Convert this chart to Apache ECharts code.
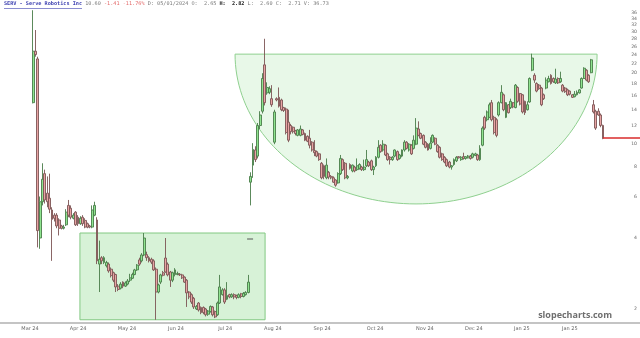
<!DOCTYPE html>
<html><head><meta charset="utf-8">
<script src="https://cdn.jsdelivr.net/npm/echarts@6/dist/echarts.min.js"></script>
<style>html,body{margin:0;padding:0;background:#fff}#c{width:640px;height:338px}</style>
</head><body><div id="c"></div>
<script>
// ---- data ----
const monthLabels = ['Mar 24','Apr 24','May 24','Jun 24','Jul 24','Aug 24','Sep 24','Oct 24','Nov 24','Dec 24','Jan 25','Jan 25'];
const monthTickIdx = [-1.3, 19, 39.7, 60.4, 81.2, 101.4, 122.2, 144.6, 165.7, 186.4, 206.7, 227];
const priceTicks = [2,4,6,8,10,12,14,16,18,20,22,24,26,28,30,32,34,36];
const lastPrice = 10.60;
// [open, close, low, high]
const candlesMarJul = [
[15.0,24.8,14.9,37.0],[24.8,24.0,23.5,30.5],[23.0,4.3,3.65,23.5],[4.0,5.7,3.6,6.0],[5.7,7.1,5.5,8.3],
[7.5,5.8,5.6,7.8],[6.2,5.7,5.4,7.3],[5.9,5.3,5.1,7.5],[5.26,4.8,3.2,5.4],[5.0,4.85,4.7,5.1],
[5.0,4.5,4.4,5.1],[4.77,4.4,4.1,4.85],[4.5,4.4,4.35,4.55],[4.4,4.45,4.35,4.55],[4.55,5.15,4.5,5.3],
[5.5,5.0,4.9,5.8],[5.35,4.9,4.8,5.5],[4.85,5.0,4.8,5.1],[5.15,4.55,4.5,5.2],[4.9,4.6,4.5,5.0],
[4.6,4.85,4.55,4.95],[4.9,4.6,4.5,5.0],[4.75,4.45,4.4,4.85],[4.6,4.45,4.4,4.65],[4.5,4.45,4.4,4.55],
[4.45,5.26,4.4,5.5],[5.0,5.5,4.95,5.7],[4.77,3.2,3.1,4.9],[3.1,3.25,2.36,3.9],[3.3,3.2,3.1,3.35],
[3.15,3.3,3.1,3.35],[3.05,3.15,3.0,3.2],[3.1,2.9,2.85,3.15],[2.95,2.77,2.72,3.0],[2.85,2.65,2.6,2.88],
[2.8,2.48,2.36,2.82],[2.5,2.42,2.38,2.55],[2.45,2.55,2.42,2.6],[2.6,2.5,2.45,2.62],[2.5,2.58,2.48,2.62],
[2.55,2.63,2.52,2.68],[2.65,2.71,2.60,2.82],[2.7,2.8,2.68,2.85],[2.8,2.93,2.78,2.96],[2.93,3.07,2.9,3.1],
[3.23,3.1,3.05,3.3],[3.2,3.39,3.15,3.45],[3.39,4.0,3.35,4.2],[3.4,3.3,3.2,3.5],[3.3,3.2,3.15,3.35],
[3.25,3.16,3.1,3.3],[3.2,2.93,2.9,3.25],[2.95,2.36,1.80,3.0],[2.36,2.53,2.33,2.56],[2.6,2.79,2.55,2.82],
[2.85,2.78,2.75,2.9],[3.29,2.87,2.85,4.0],[3.1,2.79,2.75,3.15],[2.87,2.65,2.48,2.9],[2.65,2.85,2.6,2.88],
[2.8,2.93,2.75,2.98],[2.8,2.83,2.78,2.88],[2.81,2.79,2.76,2.84],[2.79,2.71,2.68,2.82],[2.73,2.6,2.58,2.75],
[2.65,2.34,2.04,2.68],[2.36,2.25,2.2,2.38],[2.3,2.14,2.1,2.33],[2.22,2.04,2.0,2.25],[2.0,2.05,1.98,2.08],
[2.12,1.98,1.95,2.14],[2.03,1.93,1.9,2.05],[2.03,1.93,1.9,2.05],[2.0,1.89,1.86,2.02],[1.9,1.96,1.87,1.98],
[1.95,2.05,1.93,2.07],[2.04,1.89,1.86,2.06],[1.95,1.85,1.83,1.97],[1.89,2.12,1.87,2.15],[2.12,2.48,2.1,2.79],
[2.3,2.41,2.28,2.45],[2.41,2.14,2.1,2.45],[2.2,2.28,2.18,2.6],[2.3,2.25,2.22,2.32],[2.25,2.3,2.23,2.33],
[2.3,2.25,2.2,2.33],[2.28,2.24,2.2,2.3],[2.24,2.3,2.22,2.33],[2.32,2.26,2.22,2.34],[2.26,2.33,2.24,2.36],
[2.3,2.35,2.28,2.38],[2.35,2.6,2.33,2.79]
];
const candlesJulFeb = [
[6.9,7.3,5.5,7.6],[8.15,9.5,7.2,10.1],[9.45,8.6,8.4,9.8],[8.9,12.0,8.7,12.3],[12.0,13.3,11.6,13.8],
[13.8,19.0,13.5,20.0],[21.7,15.0,14.6,28.0],[16.5,17.4,16.2,18.3],[16.6,17.2,16.3,17.6],[15.6,14.7,14.4,17.8],
[10.2,13.7,10.0,14.0],[15.6,15.4,15.2,15.8],[15.8,14.5,14.3,17.4],[15.4,14.0,13.8,15.6],[14.3,13.9,13.7,14.4],
[14.1,11.2,11.0,14.3],[12.4,10.4,10.2,14.0],[12.0,11.3,11.0,12.2],[11.8,11.3,11.1,11.9],[11.4,11.1,10.9,11.5],
[10.9,11.5,10.8,11.6],[10.9,11.6,10.8,12.0],[11.5,11.0,10.9,11.6],[11.1,10.4,10.3,11.2],[10.8,10.3,10.2,10.9],
[10.6,9.9,9.6,11.5],[10.2,9.45,9.3,10.3],[9.4,9.2,8.9,10.4],[9.3,8.9,8.8,9.4],[9.1,8.6,8.5,9.2],
[8.3,7.2,7.1,8.4],[8.1,7.3,7.1,8.2],[7.2,8.15,7.1,8.7],[7.6,7.25,7.1,7.7],[7.3,7.2,7.1,7.4],
[7.2,6.9,6.85,7.3],[7.05,6.7,6.6,7.1],[6.85,7.5,6.8,7.6],[7.5,8.7,7.4,9.0],[8.6,7.8,7.7,8.7],
[8.3,7.2,7.1,8.4],[7.2,7.3,7.1,7.4],[8.2,7.9,7.8,8.3],[7.7,8.15,7.6,8.2],[8.0,7.7,7.6,8.1],
[7.8,8.1,7.7,8.7],[7.9,8.2,7.8,8.3],[8.0,7.8,7.7,8.1],[7.8,8.0,7.7,8.6],[8.1,8.6,8.0,9.45],
[8.4,8.1,8.0,8.5],[8.5,7.8,7.7,8.6],[7.8,8.0,7.4,8.1],[8.1,8.8,8.0,8.9],[8.8,9.7,8.7,10.4],
[9.9,9.3,9.2,10.0],[9.45,10.0,9.3,10.4],[9.9,9.0,8.9,10.0],[9.1,8.6,8.5,9.2],[8.8,8.6,8.2,8.9],
[8.6,8.8,8.5,8.9],[8.9,9.45,8.8,9.5],[9.3,8.6,8.5,9.4],[8.7,9.0,8.6,9.1],[8.9,9.45,8.8,9.5],
[9.45,10.2,9.3,10.4],[10.2,9.6,9.5,10.3],[9.45,10.0,9.3,10.1],[9.9,9.1,9.0,10.0],[9.6,10.4,9.5,10.9],
[10.0,11.7,9.9,12.9],[11.6,10.9,10.8,12.5],[11.1,10.6,10.5,11.2],[10.9,10.0,9.9,11.0],[10.2,9.7,9.6,10.3],
[10.0,9.45,9.4,10.1],[9.6,10.1,9.5,10.7],[10.2,10.9,10.1,11.0],[10.6,10.0,9.9,10.7],[9.9,9.3,9.2,10.0],
[9.7,8.8,8.7,9.8],[9.1,8.6,8.5,9.2],[8.8,8.4,8.3,8.9],[8.6,8.1,8.0,8.7],[8.4,8.0,7.9,8.5],
[8.0,8.1,7.8,8.15],[8.2,8.6,8.1,8.7],[8.5,8.8,8.4,8.9],[8.85,8.75,8.7,8.9],[8.6,8.8,8.5,8.9],
[8.85,8.7,8.6,9.2],[8.7,8.85,8.6,8.9],[8.75,8.9,8.7,9.0],[8.9,8.7,8.6,9.0],[8.8,9.1,8.7,9.2],
[8.95,9.1,8.9,9.2],[9.0,8.6,8.5,9.1],[8.6,9.6,8.5,9.9],[9.9,11.7,9.8,11.9],[13.0,11.7,11.5,13.2],
[12.7,13.7,12.5,13.9],[13.0,14.7,12.9,15.0],[15.0,12.7,12.5,15.4],[13.0,11.2,11.0,13.2],[12.7,10.9,10.7,12.9],
[13.3,15.0,13.1,15.2],[15.0,16.6,14.9,17.8],[16.2,14.0,13.8,16.4],[13.0,15.0,12.9,15.1],[14.7,13.6,13.5,14.8],
[14.3,15.2,14.1,15.6],[15.0,14.4,14.2,15.1],[14.3,17.8,14.2,18.0],[17.4,15.2,15.0,17.6],[16.4,14.8,14.6,16.5],
[16.2,13.7,13.5,16.3],[15.2,13.6,13.3,15.3],[14.0,14.7,13.9,15.2],[15.1,19.0,15.0,19.2],[20.6,23.2,20.4,24.2],
[19.6,18.7,18.2,20.0],[18.1,16.8,16.6,18.3],[17.8,17.2,17.0,18.0],[17.3,14.7,14.5,17.5],[16.2,15.6,15.4,16.4],
[17.3,18.7,17.1,19.2],[18.4,19.0,18.3,19.5],[19.6,18.1,17.9,19.8],[19.0,18.4,18.2,19.2],[18.2,18.9,18.0,20.9],
[19.0,18.2,18.0,19.2],[18.4,19.0,18.2,20.3],[17.8,16.8,16.6,18.0],[17.3,16.7,16.5,17.5],[17.0,16.2,16.0,17.2],
[16.8,16.3,16.1,16.9],[16.2,15.8,15.7,16.3],[15.9,16.3,15.8,16.8],[16.2,16.6,16.1,16.9],[16.5,17.0,16.4,17.1],
[17.3,19.0,17.2,19.2],[19.0,21.0,18.9,21.2],[20.6,18.7,18.5,20.8],[19.6,18.4,18.2,19.8],[20.1,22.8,20.0,23.0],
[14.7,13.7,13.5,15.4],[13.8,11.7,11.5,14.0],[13.8,13.3,13.2,14.2],[13.3,12.01,11.8,13.5],[12.01,10.6,10.5,12.1]
];
// annotation boxes in data space: [x index from, x index to, price top, price bottom]
const rectBox = [19.8, 98.1, 4.2, 1.80];
const bowlBox = [85.4, 238.5, 24.1, 5.58];

// ---- build ----
const candles = candlesMarJul.concat(candlesJulFeb);
const ohlc = candles.map((d, i) => [i, d[0], d[1], d[2], d[3]]);
const X_MIN = -14, X_MAX = 256.65;
const labelMap = {};
monthTickIdx.forEach((v, k) => { labelMap[v] = monthLabels[k]; });

const chart = echarts.init(document.getElementById('c'), null, {renderer: 'canvas'});
chart.setOption({
  animation: false,
  backgroundColor: '#ffffff',
  grid: {left: 0, right: 0, top: 5, bottom: 15},
  xAxis: {
    type: 'value', min: X_MIN, max: X_MAX,
    axisLine: {show: true, lineStyle: {color: '#c4c4c4', width: 2}},
    axisTick: {show: false}, splitLine: {show: false},
    axisLabel: {
      customValues: monthTickIdx, margin: 3,
      fontSize: 5, color: '#666', fontFamily: 'DejaVu Sans',
      formatter: v => labelMap[v] || ''
    }
  },
  yAxis: {
    type: 'log', position: 'right', min: 1.744, max: 38.94,
    axisLine: {show: false}, axisTick: {show: false}, splitLine: {show: false},
    axisLabel: {
      customValues: priceTicks, inside: true, margin: 3,
      fontSize: 4.6, color: '#666', fontFamily: 'DejaVu Sans',
      formatter: v => String(Math.round(v))
    }
  },
  graphic: [
    {type: 'text', left: 4, top: 1, z: 10, style: {
      text: '{a|SERV - Serve Robotics Inc} {b|10.60} {c|-1.41 -11.76%} {b|D: 05/01/2024 O:  2.65} {e|H:  2.82} {b|L:  2.60 C:  2.71 V: 36.73}',
      fontFamily: 'DejaVu Sans Mono', fontSize: 5.2,
      rich: {
        a: {fill: '#3b3fb0', fontWeight: 'bold', fontFamily: 'DejaVu Sans Mono', fontSize: 5.2},
        b: {fill: '#7a7a7a', fontFamily: 'DejaVu Sans Mono', fontSize: 5.2},
        c: {fill: '#e36a6a', fontFamily: 'DejaVu Sans Mono', fontSize: 5.2},
        e: {fill: '#222', fontWeight: 'bold', fontFamily: 'DejaVu Sans Mono', fontSize: 5.2}
      }
    }},
    {type: 'line', z: 10, shape: {x1: 4, y1: 8.5, x2: 82, y2: 8.5}, style: {stroke: '#3b3fb0', lineWidth: 0.6}},
    {type: 'text', right: 28, top: 311, z: 10, style: {
      text: 'slopecharts.com', fill: '#6e6e6e', fontWeight: 'bold',
      fontFamily: 'Open Sans', fontSize: 9
    }}
  ],
  series: [
    {
      type: 'custom', z: 1, silent: true, clip: false,
      data: [[0]],
      renderItem: function (params, api) {
        const r1 = api.coord([rectBox[0], rectBox[2]]);
        const r2 = api.coord([rectBox[1], rectBox[3]]);
        const b1 = api.coord([bowlBox[0], bowlBox[2]]);
        const b2 = api.coord([bowlBox[1], bowlBox[3]]);
        const cx = (b1[0] + b2[0]) / 2, rx = (b2[0] - b1[0]) / 2;
        const cy = b1[1], ry = b2[1] - b1[1];
        const pts = [];
        for (let k = 0; k <= 90; k++) {
          const t = Math.PI * k / 90;
          pts.push([cx - rx * Math.cos(t), cy + ry * Math.sin(t)]);
        }
        return {
          type: 'group',
          children: [
            {type: 'polygon', shape: {points: pts},
             style: {fill: 'rgba(150,222,150,0.22)', stroke: '#8fd08f', lineWidth: 1}},
            {type: 'rect', shape: {x: r1[0], y: r1[1], width: r2[0] - r1[0], height: r2[1] - r1[1]},
             style: {fill: 'rgba(144,220,144,0.36)', stroke: '#82c882', lineWidth: 1}},
            {type: 'line', shape: {x1: r2[0] - 18, y1: r1[1] + 6, x2: r2[0] - 12, y2: r1[1] + 6},
             style: {stroke: '#555', lineWidth: 1}}
          ]
        };
      }
    },
    {
      type: 'candlestick', z: 2,
      data: ohlc,
      encode: {x: 0, y: [1, 2, 3, 4]},
      barWidth: 2.4,
      itemStyle: {
        color: '#8fe48f', color0: '#e8a3a3',
        borderColor: '#4a7d4a', borderColor0: '#7d5555', borderWidth: 0.9
      },
      markLine: {
        silent: true, symbol: 'none', label: {show: false},
        lineStyle: {color: '#d92b2b', width: 1.5, type: 'solid'},
        data: [[{coord: [ohlc.length - 1, lastPrice]}, {coord: [X_MAX, lastPrice]}]]
      }
    }
  ]
});
</script>
</body></html>
